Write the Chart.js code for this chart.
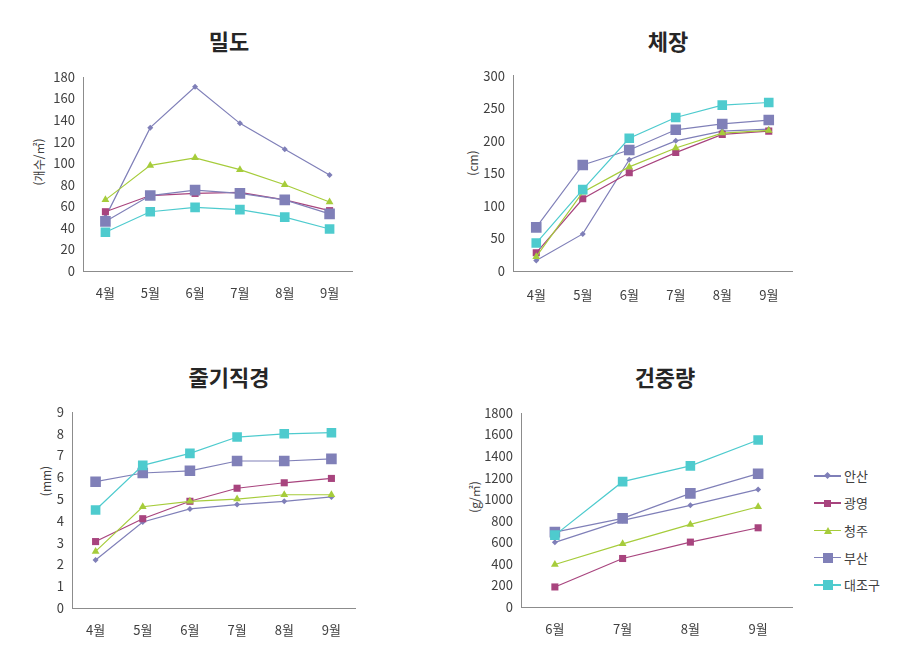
<!DOCTYPE html>
<html lang="ko">
<head>
<meta charset="utf-8">
<script src="https://cdn.jsdelivr.net/npm/chart.js@4.4.1/dist/chart.umd.min.js"></script>
<style>
  body { margin: 0; width: 921px; height: 660px; background: #fff; position: relative; overflow: hidden;
         font-family: 'Noto Sans CJK KR', 'Noto Sans', sans-serif; }
  canvas { position: absolute; }
  .title { position: absolute; font-size: 22px; font-weight: bold; color: #262626;
           transform: translate(-50%, -50%); white-space: nowrap; }
  .unit { position: absolute; font-size: 12px; color: #404040;
          transform: translate(-50%, -50%) rotate(-90deg); white-space: nowrap; }
  .legend { position: absolute; left: 814px; top: 466px; width: 100px; }
  .item { position: relative; height: 27.3px; }
  .item .ln { position: absolute; left: 0; top: 9px; width: 27px; height: 1.5px; }
  .item .mk { position: absolute; }
  .item .tx { position: absolute; left: 30px; top: 0; font-size: 13px; color: #404040; line-height: 20px; white-space: nowrap; }
</style>
</head>
<body>

<div class="title" style="left:229px; top:40px;">밀도</div>
<div class="title" style="left:668px; top:40px;">체장</div>
<div class="title" style="left:229px; top:376px;">줄기직경</div>
<div class="title" style="left:665px; top:376px;">건중량</div>

<div class="unit" style="left:38px; top:162px;">(개수/㎡)</div>
<div class="unit" style="left:472px; top:163px;">(cm)</div>
<div class="unit" style="left:45px; top:481px;">(mm)</div>
<div class="unit" style="left:474px; top:497px;">(g/㎡)</div>

<canvas id="graficoDensidade" width="312" height="260" style="left:50px; top:60px;"></canvas>
<canvas id="graficoComprimento" width="322" height="260" style="left:480px; top:60px;"></canvas>
<canvas id="graficoDiametro" width="325" height="260" style="left:40px; top:395px;"></canvas>
<canvas id="graficoPeso" width="322" height="260" style="left:480px; top:395px;"></canvas>

<div class="legend" id="legenda"></div>

<script>
// =========================
// DADOS
// =========================

const seriesNames = ['안산', '광영', '청주', '부산', '대조구'];
const monthsAll = ['4월', '5월', '6월', '7월', '8월', '9월'];
const monthsDry = ['6월', '7월', '8월', '9월'];

// 밀도 (개수/㎡)
const densityValues = [
    [50, 133, 171, 137, 113, 89],
    [55, 70, 72, 73, 66, 56],
    [66, 98, 105, 94, 80, 64],
    [46, 70, 75, 72, 66, 53],
    [36, 55, 59, 57, 50, 39]
];

// 체장 (cm)
const lengthValues = [
    [16, 57, 171, 200, 215, 218],
    [28, 111, 151, 182, 210, 215],
    [22, 121, 160, 189, 212, 216],
    [67, 163, 186, 217, 226, 232],
    [43, 125, 204, 236, 255, 259]
];

// 줄기직경 (mm)
const diameterValues = [
    [2.2, 3.95, 4.55, 4.75, 4.9, 5.1],
    [3.05, 4.1, 4.9, 5.5, 5.75, 5.95],
    [2.6, 4.65, 4.9, 5.0, 5.2, 5.2],
    [5.8, 6.2, 6.3, 6.75, 6.75, 6.85],
    [4.5, 6.55, 7.1, 7.85, 8.0, 8.05]
];

// 건중량 (g/㎡)
const weightValues = [
    [600, 803, 943, 1091],
    [186, 450, 602, 735],
    [394, 586, 766, 930],
    [695, 822, 1054, 1237],
    [667, 1163, 1309, 1550]
];

// eixo y: [min, max, passo]
const densityTicks = [0, 180, 20];
const lengthTicks = [0, 300, 50];
const diameterTicks = [0, 9, 1];
const weightTicks = [0, 1800, 200];

// =========================
// ESTILO DAS SÉRIES
// =========================

const seriesColors = ['#7F7FB8', '#A8447E', '#A6CC3B', '#8080B8', '#4ECBCE'];
const seriesPoints = ['rectRot', 'rect', 'triangle', 'rect', 'rect'];
const seriesRadius = [3, 5, 4.5, 7.5, 6.8];

const fonte = "'Noto Sans CJK KR', 'Noto Sans', sans-serif";

function criarGrafico(id, labels, values, ticks, box) {
    const canvas = document.getElementById(id);
    if (!canvas) return;

    const ctx = canvas.getContext('2d');

    new Chart(ctx, {
        type: 'line',
        data: {
            labels: labels,
            datasets: seriesNames.map((name, i) => ({
                label: name,
                data: values[i],
                borderColor: seriesColors[i],
                backgroundColor: seriesColors[i],
                borderWidth: 1.2,
                pointStyle: seriesPoints[i],
                pointRadius: seriesRadius[i],
                pointBorderWidth: 0,
                tension: 0,
                order: seriesNames.length - i
            }))
        },
        options: {
            responsive: false,
            animation: false,
            layout: {
                padding: { top: box.top, right: box.right, left: 0, bottom: 0 }
            },
            scales: {
                x: {
                    offset: true,
                    grid: { display: false, drawTicks: false },
                    border: { display: true, color: '#8C8C8C', width: 1 },
                    ticks: { color: '#404040', padding: box.xPad, font: { family: fonte, size: 13 } },
                    afterFit: (s) => { s.height = box.xh; }
                },
                y: {
                    min: ticks[0],
                    max: ticks[1],
                    grid: { display: false, drawTicks: false },
                    border: { display: true, color: '#8C8C8C', width: 1 },
                    ticks: {
                        stepSize: ticks[2],
                        color: '#404040',
                        padding: 8,
                        font: { family: fonte, size: 13 },
                        callback: (value) => String(value)
                    },
                    afterFit: (s) => { s.width = box.yw; }
                }
            },
            plugins: {
                legend: { display: false },
                tooltip: { enabled: false }
            }
        }
    });
}

criarGrafico('graficoDensidade', monthsAll, densityValues, densityTicks,
    { top: 17, right: 10, yw: 33, xh: 49, xPad: 14 });

criarGrafico('graficoComprimento', monthsAll, lengthValues, lengthTicks,
    { top: 15, right: 10, yw: 33, xh: 49, xPad: 16 });

criarGrafico('graficoDiametro', monthsAll, diameterValues, diameterTicks,
    { top: 17, right: 10, yw: 32, xh: 47, xPad: 14 });

criarGrafico('graficoPeso', monthsDry, weightValues, weightTicks,
    { top: 18, right: 10, yw: 41, xh: 48, xPad: 14 });

// =========================
// LEGENDA
// =========================

const legenda = document.getElementById('legenda');

if (legenda) {
    seriesNames.forEach((name, i) => {
        const item = document.createElement('div');
        item.className = 'item';

        const ln = document.createElement('div');
        ln.className = 'ln';
        ln.style.background = seriesColors[i];
        item.appendChild(ln);

        const mk = document.createElement('div');
        mk.className = 'mk';
        const c = seriesColors[i];
        if (seriesPoints[i] === 'rectRot') {
            mk.style.cssText = `left:11px; top:7px; width:5px; height:5px; background:${c}; transform:rotate(45deg);`;
        } else if (seriesPoints[i] === 'triangle') {
            mk.style.cssText = `left:10px; top:6px; width:0; height:0; border-left:4px solid transparent; border-right:4px solid transparent; border-bottom:7px solid ${c};`;
        } else {
            const s = i === 1 ? 7 : 10;
            mk.style.cssText = `left:${13.5 - s / 2}px; top:${9.75 - s / 2}px; width:${s}px; height:${s}px; background:${c};`;
        }
        item.appendChild(mk);

        const tx = document.createElement('div');
        tx.className = 'tx';
        tx.textContent = name;
        item.appendChild(tx);

        legenda.appendChild(item);
    });
}
</script>
</body>
</html>
